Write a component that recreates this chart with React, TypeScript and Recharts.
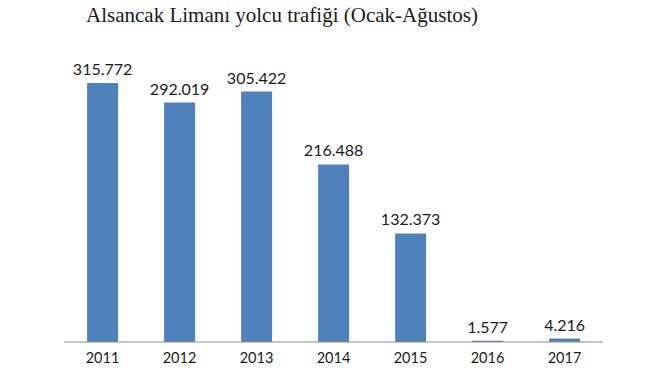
import { Bar, BarChart, LabelList, XAxis, YAxis } from "recharts";

const years = ["2011", "2012", "2013", "2014", "2015", "2016", "2017"];
const passengers = [315772, 292019, 305422, 216488, 132373, 1577, 4216];

const data = years.map((year, i) => ({ year, value: passengers[i] }));

const formatTr = (v: number) =>
  String(v).replace(/\B(?=(\d{3})+(?!\d))/g, ".");

export default function App() {
  return (
    <div
      style={{
        position: "absolute",
        left: 0,
        top: 0,
        width: 670,
        height: 375,
        background: "#fff",
      }}
    >
      <div
        style={{
          position: "absolute",
          left: 86,
          top: 3,
          fontFamily: "'Liberation Serif', serif",
          fontSize: 21,
          color: "#1a1a1a",
          whiteSpace: "nowrap",
        }}
      >
        Alsancak Limanı yolcu trafiği (Ocak-Ağustos)
      </div>
      <BarChart
        width={670}
        height={375}
        data={data}
        margin={{ top: 55, right: 67, left: 64, bottom: 3 }}
        barCategoryGap="30%"
      >
        <XAxis
          dataKey="year"
          height={30}
          tickLine={false}
          tickSize={0}
          tickMargin={11}
          axisLine={{ stroke: "#8c8c8c", strokeWidth: 1 }}
          tick={{ fill: "#1a1a1a", fontSize: 14.5, fontFamily: "Lato, sans-serif" }}
        />
        <YAxis hide domain={[0, 350000]} />
        <Bar dataKey="value" fill="#4f81bd" isAnimationActive={false}>
          <LabelList
            dataKey="value"
            position="top"
            offset={8}
            formatter={(v: number) => formatTr(v)}
            style={{ fill: "#1a1a1a", fontSize: 16, fontFamily: "Lato, sans-serif" }}
          />
        </Bar>
      </BarChart>
    </div>
  );
}
